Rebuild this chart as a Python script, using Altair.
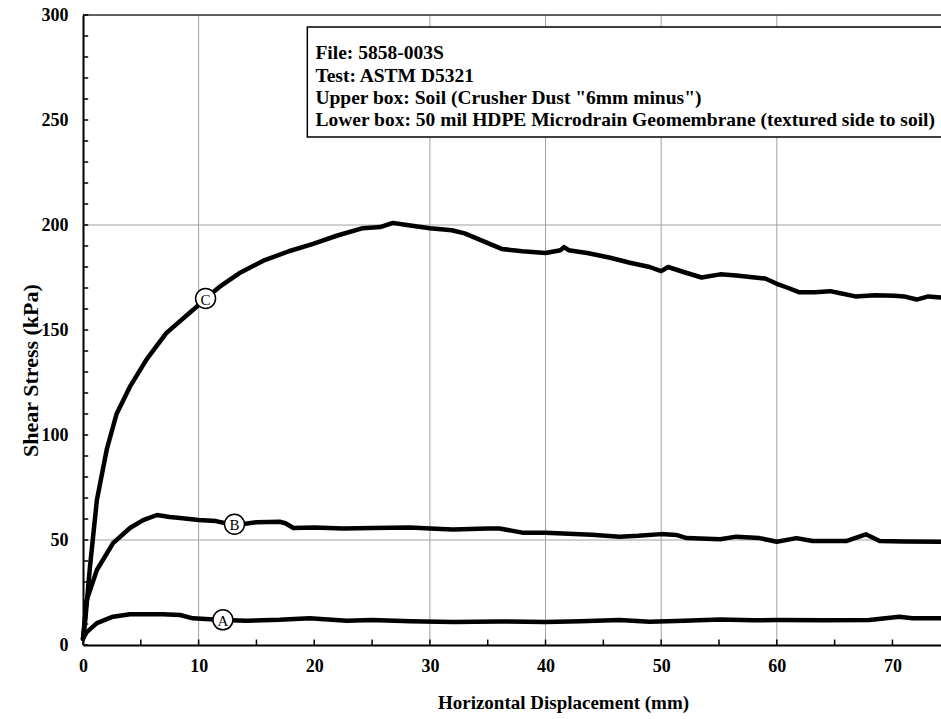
import altair as alt
import pandas as pd

# ---- data ----
C_x = [0, 0.2, 0.6, 1.2, 2.05, 2.9, 4.06, 5.5, 7.2, 9.5, 10.6, 11.8, 13.5, 15.6, 17.8, 19.9, 22, 24.2, 25.7, 26.8, 28, 30, 31.9, 33, 34.3, 36.2, 38, 40, 41.3, 41.6, 42, 43.6, 45.5, 47.3, 49, 50, 50.6, 52, 53.5, 55.1, 56.5, 58.1, 59, 60, 61, 61.9, 63.3, 64.6, 65.5, 66.8, 68.5, 70.2, 71, 72.1, 73.1, 74.2]
C_y = [3, 12, 37, 69, 93, 110, 123, 136, 148.5, 159.5, 165, 170.5, 177, 183, 187.5, 191, 195, 198.5, 199, 201, 200, 198.5, 197.5, 196, 193, 188.6, 187.5, 186.7, 188, 189.5, 188, 186.7, 184.5, 182, 180, 178, 180, 177.5, 175, 176.5, 176, 175, 174.5, 172, 170, 168, 168, 168.5, 167.5, 166, 166.5, 166.3, 166, 164.5, 166, 165.5]

B_x = [0, 0.3, 1.2, 2.6, 4.06, 5.2, 6.4, 7.5, 8.4, 10, 11.5, 13.1, 15, 17, 17.5, 18.2, 20, 22.5, 25, 28.3, 30, 32, 35, 36, 38, 40, 42, 44, 46.4, 48, 50, 51.3, 52.2, 55.1, 56.5, 58.5, 60, 61.7, 63.1, 66, 67.7, 68.9, 71, 74.2]
B_y = [3, 21, 35.7, 48.5, 55.7, 59.5, 61.9, 61, 60.5, 59.5, 59, 57, 58.5, 58.7, 58, 55.7, 56, 55.5, 55.7, 56, 55.5, 55, 55.5, 55.5, 53.5, 53.5, 53, 52.5, 51.6, 52, 52.8, 52.4, 50.9, 50.4, 51.6, 50.9, 49.2, 50.9, 49.5, 49.5, 52.7, 49.5, 49.3, 49.2]

A_x = [0, 0.3, 1.2, 2.6, 4.06, 5.5, 6.9, 8.4, 9.5, 12.1, 14.1, 17, 19.6, 22.8, 25, 28.3, 32, 36, 40, 43, 46.4, 49, 52, 55.1, 58, 60, 64, 68, 70.6, 71.7, 74.2]
A_y = [3, 6, 10.4, 13.5, 14.6, 14.6, 14.6, 14.3, 12.7, 11.9, 11.6, 12, 12.7, 11.6, 11.9, 11.3, 11, 11.2, 11, 11.3, 11.9, 11.1, 11.6, 12.2, 11.8, 11.9, 11.8, 11.9, 13.5, 12.7, 12.7]

label_names = ["C", "B", "A"]
label_x = [10.6, 13.1, 12.1]
label_y = [165, 57.5, 12]

x_ticks_major = [0, 10, 20, 30, 40, 50, 60, 70]
x_ticks_minor = [0, 5, 10, 15, 20, 25, 30, 35, 40, 45, 50, 55, 60, 65, 70]
y_ticks_major = [0, 50, 100, 150, 200, 250, 300]
y_ticks_minor = list(range(0, 301, 10))
x_grid = [10, 30, 40, 50, 60]
y_grid = [50, 200]

info_lines = [
    "File: 5858-003S",
    "Test: ASTM D5321",
    'Upper box: Soil (Crusher Dust "6mm minus")',
    "Lower box: 50 mil HDPE Microdrain Geomembrane (textured side to soil)",
]
info_y = [282, 271, 260.5, 250]
info_x = 20.1
box_x, box_x2, box_y, box_y2 = 19.4, 76, 294.3, 241.9

X_MAX = 74.2
FONT = "Liberation Serif"

rows = []
for name, xs_, ys_ in [("C", C_x, C_y), ("B", B_x, B_y), ("A", A_x, A_y)]:
    for i, (a, b) in enumerate(zip(xs_, ys_)):
        rows.append({"series": name, "x": a, "y": b, "i": i})
curves = pd.DataFrame(rows)

xs = alt.Scale(domain=[0, X_MAX], nice=False, zero=False)
ys = alt.Scale(domain=[0, 300], nice=False)

xaxis = alt.Axis(
    values=x_ticks_major, format="d", grid=False, ticks=False,
    domainColor="black", domainWidth=2, labelFont=FONT, labelFontSize=18,
    labelFontWeight="bold", labelColor="black", labelPadding=12, labelFlush=False,
    title="Horizontal Displacement (mm)", titleFont=FONT, titleFontSize=19,
    titleFontWeight="bold", titleColor="black", titleX=480, titleY=57,
    titleBaseline="middle", titleAnchor="middle",
)
yaxis = alt.Axis(
    values=y_ticks_major, format="d", grid=False, ticks=False,
    domainColor="black", domainWidth=2, labelFont=FONT, labelFontSize=18,
    labelFontWeight="bold", labelColor="black", labelPadding=15, labelFlush=False,
    title="Shear Stress (kPa)", titleFont=FONT, titleFontSize=22,
    titleFontWeight="bold", titleColor="black", titleX=-53, titleY=355,
    titleBaseline="middle", titleAnchor="middle",
)

base = alt.Chart(curves)

vgrid = alt.Chart(pd.DataFrame({"x": x_grid})).mark_rule(color="#a0a0a0", strokeWidth=1).encode(
    x=alt.X("x:Q", scale=xs, axis=xaxis), y=alt.value(0), y2=alt.value(630))
hgrid = alt.Chart(pd.DataFrame({"y": y_grid})).mark_rule(color="#a0a0a0", strokeWidth=1).encode(
    y=alt.Y("y:Q", scale=ys, axis=yaxis), x=alt.value(0), x2=alt.value(858))

top_border = alt.Chart(pd.DataFrame({"y": [300], "x": [0], "x2": [X_MAX]})).mark_rule(
    color="#333333", strokeWidth=1.5).encode(x="x:Q", x2="x2:Q", y="y:Q")

xt = alt.Chart(pd.DataFrame({"x": x_ticks_minor, "y": [0] * len(x_ticks_minor), "y2": [2.6] * len(x_ticks_minor)})).mark_rule(
    color="black", strokeWidth=1.5).encode(x="x:Q", y="y:Q", y2="y2:Q")
yt = alt.Chart(pd.DataFrame({"y": y_ticks_minor, "x": [0] * len(y_ticks_minor), "x2": [0.45] * len(y_ticks_minor)})).mark_rule(
    color="black", strokeWidth=1.5).encode(y="y:Q", x="x:Q", x2="x2:Q")

lines = base.mark_line(color="black", strokeWidth=4.5, strokeJoin="round", strokeCap="round").encode(
    x="x:Q", y="y:Q", detail="series:N", order="i:Q")

lab = pd.DataFrame({"name": label_names, "x": label_x, "y": label_y})
circles = alt.Chart(lab).mark_point(shape="circle", filled=True, fill="white", stroke="black",
                                    strokeWidth=1.5, size=400, opacity=1).encode(x="x:Q", y="y:Q")
letters = alt.Chart(lab).mark_text(font=FONT, fontSize=15, color="black", baseline="middle",
                                   align="center", dy=1).encode(x="x:Q", y="y:Q", text="name:N")

box = alt.Chart(pd.DataFrame({"x": [box_x], "x2": [box_x2], "y": [box_y], "y2": [box_y2]})).mark_rect(
    fill="white", stroke="black", strokeWidth=1.5, clip=True).encode(x="x:Q", x2="x2:Q", y="y:Q", y2="y2:Q")
info = alt.Chart(pd.DataFrame({"t": info_lines, "y": info_y, "x": [info_x] * 4})).mark_text(
    font=FONT, fontSize=19.5, fontWeight="bold", color="black", align="left", baseline="middle").encode(
    x="x:Q", y="y:Q", text="t:N")

chart = alt.layer(vgrid, hgrid, top_border, xt, yt, lines, circles, letters, box, info).properties(
    width=858, height=630,
    autosize=alt.AutoSizeParams(type="none"),
    padding={"left": 83, "top": 15, "right": 0, "bottom": 74},
).configure_view(stroke=None).configure(background="white")

chart.save("out.html", embed_options={"renderer": "svg", "actions": False})
